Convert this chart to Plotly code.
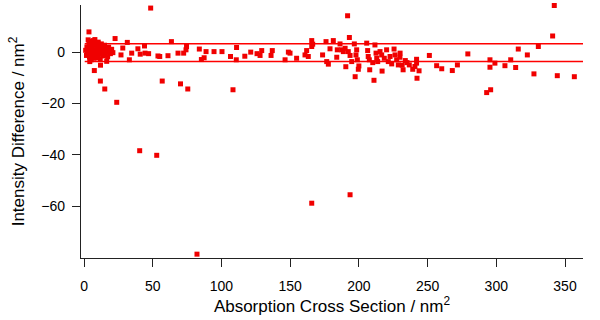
import plotly.graph_objects as go

# Dense cluster near the origin
cluster_x = [1.2, 1.8, 2.1, 2.5, 2.9, 3.3, 3.6, 4.0, 4.4, 4.8, 5.1, 5.5, 5.9, 6.2, 6.6,
             7.0, 7.3, 7.7, 8.1, 8.4, 8.8, 9.2, 9.5, 9.9, 10.3, 10.7, 11.0, 11.4, 11.8, 12.2,
             12.6, 13.0, 13.5, 14.0, 14.4, 14.9, 15.5, 16.0, 16.6, 17.2, 17.9, 18.5, 19.2, 20.1,
             21.0, 3.0, 5.2, 6.8, 8.6, 10.1, 12.4, 7.9, 9.7, 4.6, 13.8]
cluster_y = [0.8, -1.2, 2.1, 0.3, -0.6, 1.7, 3.1, -1.8, 0.9, 2.6, -0.2, 1.4, 4.3, -1.1, 0.5,
             2.9, -2.3, 1.1, 3.8, -0.4, 0.2, 2.2, -1.5, 1.6, 4.0, -0.8, 0.6, 2.4, -2.6, 1.0,
             3.3, -0.3, 1.9, -1.4, 0.7, 2.8, -0.9, 1.3, 0.1, -1.7, 2.0, 0.4, -0.5, 1.2,
             -0.1, 4.9, -2.9, 4.6, -1.9, 3.6, 0.0, 5.0, -2.1, -2.7, 2.5]

# Left / low-cross-section region
left_x = [3.6, 22.6, 31.5, 44.0, 48.5, 63.6, 74.6, 74.2, 83.9, 111.0, 28.2, 39.2, 34.7, 40.9,
          47.0, 53.8, 55.1, 61.1, 68.4, 72.5, 88.8, 94.6, 100.4, 117.0, 106.6, 110.8, 121.3,
          125.9, 85.4, 87.4, 33.0, 26.9, 16.5, 4.2, 12.0, 7.5, 11.9, 15.1, 56.9, 70.2, 75.5,
          108.4, 23.8, 40.5, 52.9, 82.2, 165.7, 193.6, 44.4]
left_y = [8.0, 5.4, 3.9, 2.5, 17.3, 4.2, 2.3, 1.0, 1.3, 1.9, 1.7, 1.4, -0.3, -0.7,
          -0.5, -1.4, -1.6, -1.3, -0.3, -0.3, 0.3, 0.3, 0.3, -1.5, -1.6, -2.9, 0.1,
          -0.5, -2.8, -2.1, -2.9, -1.0, -3.5, -3.6, -5.0, -7.1, -11.2, -14.3, -11.2, -12.3, -14.3,
          -14.6, -19.5, -38.4, -40.2, -78.8, -58.9, -55.6, -0.3]

# Middle region
mid_x = [128.1, 129.3, 136.1, 137.0, 146.3, 148.7, 149.9, 154.7, 160.8, 162.0, 163.2, 165.7,
         166.4, 165.7, 173.6, 176.1, 176.6, 177.8, 179.0, 181.4, 183.9, 184.3, 186.3, 187.5,
         188.7, 190.0, 190.5, 191.8, 193.1, 192.3, 193.6, 194.8, 196.7, 197.3, 198.4, 197.9,
         198.9, 200.0, 199.6, 205.7, 206.4, 206.8, 207.6, 207.9, 210.1, 211.0, 211.7, 212.5,
         213.0, 213.7, 215.4, 216.6, 216.9, 218.5, 220.2, 221.4, 222.7, 223.9, 225.6, 226.3,
         227.5, 228.7, 229.9, 230.0, 231.5, 232.2, 233.8, 235.0, 236.7, 239.2, 240.8, 242.0,
         242.0, 242.3, 243.8]
mid_y = [-1.2, 0.7, -1.2, 0.7, -2.9, 0.1, -0.3, -2.3, -1.0, 0.7, -1.6, 4.6,
         3.2, 2.3, -1.0, 4.2, -3.6, -4.6, 1.4, 4.6, -1.9, 1.0, 3.3, 1.0,
         0.3, 1.6, -5.6, 14.3, 5.8, 0.3, -1.2, -3.6, 3.3, -9.5, 1.0, -1.0,
         -2.9, -5.3, -6.6, 3.6, 0.7, -1.6, -2.9, -6.8, -4.0, -10.9, 2.9, -0.3,
         -2.3, -3.6, 0.3, -1.0, -7.3, -2.3, 1.0, -3.6, -1.6, -4.5, 1.3, -1.0,
         -2.9, -4.9, -1.9, -0.3, -5.0, -6.8, -3.2, -4.0, -4.9, -6.6, -5.5, -2.7,
         -4.2, -10.1, -7.2]

# Right / high-cross-section region
right_x = [251.3, 256.6, 260.3, 268.0, 271.7, 279.3, 293.0, 295.9, 295.4, 295.4, 299.0, 306.3,
           310.5, 314.1, 316.0, 322.6, 327.4, 330.6, 341.0, 342.2, 344.4, 356.8]
right_y = [-1.2, -5.2, -6.4, -7.1, -4.9, -0.6, -15.7, -14.6, -2.9, -5.8, -4.2, -5.2,
           -2.9, -5.9, 1.3, -1.0, -8.4, 2.3, 6.4, 18.3, -9.1, -9.5]

# Reference band limits
band_upper = 3.4
band_lower = -3.6
band_x = [0.5, 363.1]

x_ticks = [0, 50, 100, 150, 200, 250, 300, 350]
y_ticks = [0, -20, -40, -60]

all_x = cluster_x + left_x + mid_x + right_x
all_y = cluster_y + left_y + mid_y + right_y

RED = "#ff0000"
fig = go.Figure()
for lvl in (band_upper, band_lower):
    fig.add_trace(go.Scatter(x=band_x, y=[lvl, lvl], mode="lines",
                             line=dict(color=RED, width=1.5), hoverinfo="skip"))
fig.add_trace(go.Scatter(x=all_x, y=all_y, mode="markers", cliponaxis=False,
                         marker=dict(symbol="square", size=5, color="#f00000", line=dict(width=0))))

font = dict(family="Liberation Sans, Arial, sans-serif", size=14, color="black")
fig.update_layout(
    width=600, height=320,
    margin=dict(l=81, r=17, t=5, b=62),
    paper_bgcolor="white", plot_bgcolor="white",
    showlegend=False, font=font,
    xaxis=dict(range=[-2.2, 363.1], tickvals=x_ticks, ticks="outside", ticklen=8,
               tickwidth=1.3, tickcolor="#222", showline=True, linecolor="#222", linewidth=1.3,
               showgrid=False, zeroline=False, automargin=False, ticklabelstandoff=7,
               title=dict(text="Absorption Cross Section / nm<sup>2</sup>", standoff=6)),
    yaxis=dict(range=[-80.3, 18.5], tickvals=y_ticks, ticks="outside", ticklen=8,
               tickwidth=1.3, tickcolor="#222", showline=True, linecolor="#222", linewidth=1.3,
               showgrid=False, zeroline=False, automargin=False, ticklabelstandoff=4,
               title=dict(text="Intensity Difference / nm<sup>2</sup>", standoff=12)),
)
fig.write_html("out.html", config={"displayModeBar": False},
               post_script="document.body.style.margin='0';")
